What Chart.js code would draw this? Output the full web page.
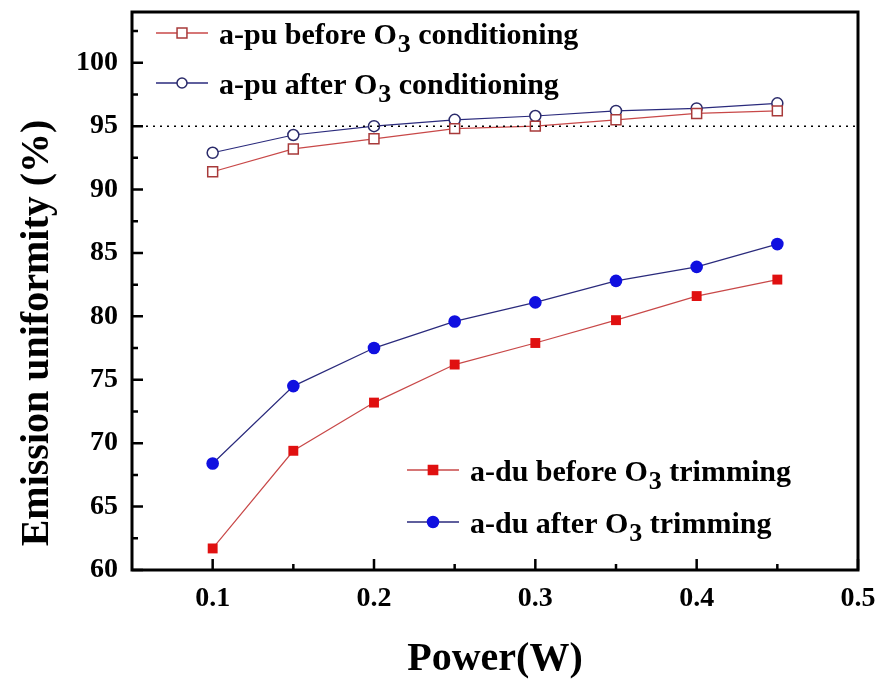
<!DOCTYPE html>
<html>
<head>
<meta charset="utf-8">
<script src="https://cdn.jsdelivr.net/npm/chart.js@4.4.1/dist/chart.umd.min.js"></script>
<style>
  html, body { margin: 0; padding: 0; background: #fff; }
  #wrap { width: 882px; height: 689px; }
</style>
</head>
<body>
<div id="wrap"><canvas id="uniformityChart" width="882" height="689"></canvas></div>
<script>
// Données
const powerW = [0.1, 0.15, 0.2, 0.25, 0.3, 0.35, 0.4, 0.45];
const puBefore = [91.4, 93.2, 94.0, 94.8, 95.0, 95.5, 96.0, 96.2];
const puAfter = [92.9, 94.3, 95.0, 95.5, 95.8, 96.2, 96.4, 96.8];
const duBefore = [61.7, 69.4, 73.2, 76.2, 77.9, 79.7, 81.6, 82.9];
const duAfter = [68.4, 74.5, 77.5, 79.6, 81.1, 82.8, 83.9, 85.7];
const refLevel = 95;

const xTicks = [0.1, 0.2, 0.3, 0.4, 0.5];
const xMinor = [0.15, 0.25, 0.35, 0.45];
const yTicks = [60, 65, 70, 75, 80, 85, 90, 95, 100];
const yMinor = [62.5, 67.5, 72.5, 77.5, 82.5, 87.5, 92.5, 97.5, 102.5];
const xMin = 0.05, xMax = 0.5;
const yMin = 60, yMax = 104;

const serif = "'Liberation Serif', 'Times New Roman', serif";
const RED_LINE = "#c84848";
const BLUE_LINE = "#2a2a7c";

function pts(values) {
  return powerW.map((x, i) => ({ x: x, y: values[i] }));
}

// Légendes avec indice O3
const legendRows = [
  { x0: 156, y: 33, line: RED_LINE, style: "rect", r: 7, fill: "#fff", stroke: "#a83a3a", pre: "a-pu before O", post: " conditioning" },
  { x0: 156, y: 83, line: BLUE_LINE, style: "circle", r: 5, fill: "#fff", stroke: "#2a2a6a", pre: "a-pu after O", post: " conditioning" },
  { x0: 407, y: 470, line: RED_LINE, style: "rect", r: 6.5, fill: "#e01010", stroke: "#e01010", pre: "a-du before O", post: " trimming" },
  { x0: 407, y: 522, line: BLUE_LINE, style: "circle", r: 5.5, fill: "#1010e0", stroke: "#1010e0", pre: "a-du after O", post: " trimming" },
];

const decorPlugin = {
  id: "decor",
  afterDraw(chart) {
    const { ctx, chartArea: a, scales } = chart;
    const sx = scales.x, sy = scales.y;
    ctx.save();

    // cadre
    ctx.strokeStyle = "#000";
    ctx.lineWidth = 3;
    ctx.strokeRect(a.left, a.top, a.right - a.left, a.bottom - a.top);

    // graduations vers l'intérieur
    ctx.lineWidth = 2.5;
    ctx.beginPath();
    xTicks.forEach((v) => { const p = sx.getPixelForValue(v); ctx.moveTo(p, a.bottom); ctx.lineTo(p, a.bottom - 11); });
    xMinor.forEach((v) => { const p = sx.getPixelForValue(v); ctx.moveTo(p, a.bottom); ctx.lineTo(p, a.bottom - 6); });
    yTicks.forEach((v) => { const p = sy.getPixelForValue(v); ctx.moveTo(a.left, p); ctx.lineTo(a.left + 11, p); });
    yMinor.forEach((v) => { const p = sy.getPixelForValue(v); ctx.moveTo(a.left, p); ctx.lineTo(a.left + 6, p); });
    ctx.stroke();

    // titres des axes
    ctx.fillStyle = "#000";
    ctx.font = "bold 40px " + serif;
    ctx.textAlign = "center";
    ctx.textBaseline = "middle";
    ctx.fillText("Power(W)", (a.left + a.right) / 2, 660);
    ctx.save();
    ctx.translate(38, 333);
    ctx.rotate(-Math.PI / 2);
    ctx.fillText("Emission uniformity (%)", 0, 0);
    ctx.restore();

    // légende
    ctx.textAlign = "left";
    ctx.textBaseline = "alphabetic";
    legendRows.forEach((row) => {
      ctx.strokeStyle = row.line;
      ctx.lineWidth = 1.3;
      ctx.beginPath();
      ctx.moveTo(row.x0, row.y);
      ctx.lineTo(row.x0 + 52, row.y);
      ctx.stroke();
      ctx.fillStyle = row.fill;
      ctx.strokeStyle = row.stroke;
      ctx.lineWidth = 1.5;
      Chart.helpers.drawPoint(ctx, { pointStyle: row.style, radius: row.r, borderWidth: 1.5 }, row.x0 + 26, row.y);

      let tx = row.x0 + 63;
      const base = row.y + 11;
      ctx.fillStyle = "#000";
      ctx.font = "bold 30px " + serif;
      ctx.fillText(row.pre, tx, base);
      tx += ctx.measureText(row.pre).width;
      ctx.font = "bold 26px " + serif;
      ctx.fillText("3", tx + 1, base + 8);
      tx += ctx.measureText("3").width + 1;
      ctx.font = "bold 30px " + serif;
      ctx.fillText(row.post, tx, base);
    });
    ctx.restore();
  },
};

new Chart(document.getElementById("uniformityChart"), {
  type: "line",
  data: {
    datasets: [
      {
        label: "ref",
        data: [{ x: xMin, y: refLevel }, { x: xMax, y: refLevel }],
        borderColor: "#000",
        borderWidth: 1.5,
        borderDash: [2, 5],
        pointRadius: 0,
      },
      {
        label: "a-pu before O3 conditioning",
        data: pts(puBefore),
        borderColor: RED_LINE,
        borderWidth: 1.2,
        pointStyle: "rect",
        pointRadius: 7,
        pointBorderWidth: 1.5,
        pointBorderColor: "#a83a3a",
        pointBackgroundColor: "#fff",
      },
      {
        label: "a-pu after O3 conditioning",
        data: pts(puAfter),
        borderColor: BLUE_LINE,
        borderWidth: 1.2,
        pointStyle: "circle",
        pointRadius: 5.5,
        pointBorderWidth: 1.5,
        pointBorderColor: "#2a2a6a",
        pointBackgroundColor: "#fff",
      },
      {
        label: "a-du before O3 trimming",
        data: pts(duBefore),
        borderColor: RED_LINE,
        borderWidth: 1.2,
        pointStyle: "rect",
        pointRadius: 7,
        pointBorderWidth: 0,
        pointBackgroundColor: "#e01010",
      },
      {
        label: "a-du after O3 trimming",
        data: pts(duAfter),
        borderColor: BLUE_LINE,
        borderWidth: 1.2,
        pointStyle: "circle",
        pointRadius: 6.3,
        pointBorderWidth: 0,
        pointBackgroundColor: "#1010e0",
      },
    ],
  },
  options: {
    responsive: false,
    animation: false,
    events: [],
    layout: { padding: { top: 12, right: 24, left: 0, bottom: 0 } },
    plugins: { legend: { display: false }, tooltip: { enabled: false } },
    scales: {
      x: {
        type: "linear",
        min: xMin,
        max: xMax,
        afterBuildTicks: (s) => { s.ticks = xTicks.map((v) => ({ value: v })); },
        afterFit: (s) => { s.height = 119; s.paddingLeft = 0; s.paddingRight = 0; },
        grid: { display: false, drawTicks: false },
        border: { display: false },
        ticks: {
          color: "#000",
          padding: 12,
          maxRotation: 0,
          font: { family: serif, size: 28, weight: "bold" },
          callback: (v) => v.toFixed(1),
        },
      },
      y: {
        min: yMin,
        max: yMax,
        afterBuildTicks: (s) => { s.ticks = yTicks.map((v) => ({ value: v })); },
        afterFit: (s) => { s.width = 132; s.paddingTop = 0; s.paddingBottom = 0; },
        grid: { display: false, drawTicks: false },
        border: { display: false },
        ticks: {
          color: "#000",
          padding: 14,
          font: { family: serif, size: 28, weight: "bold" },
        },
      },
    },
  },
  plugins: [decorPlugin],
});
</script>
</body>
</html>
